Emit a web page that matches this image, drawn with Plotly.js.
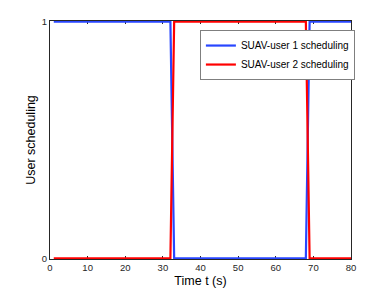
<!DOCTYPE html>
<html><head><meta charset="utf-8">
<script src="https://cdn.plot.ly/plotly-3.0.1.min.js"></script>
<style>body{margin:0;background:#fff}#p{width:388px;height:291px}</style>
</head><body><div id="p"></div>
<script>
const time = [];
for (let t = 1; t <= 80; t++) time.push(t);
// scheduling indicators (1 = scheduled, 0 = not scheduled)
const user1 = [
  1,1,1,1,1,1,1,1,1,1, 1,1,1,1,1,1,1,1,1,1, 1,1,1,1,1,1,1,1,1,1, 1,1,0,0,0,0,0,0,0,0,
  0,0,0,0,0,0,0,0,0,0, 0,0,0,0,0,0,0,0,0,0, 0,0,0,0,0,0,0,0,1,1, 1,1,1,1,1,1,1,1,1,1
];
const user2 = [
  0,0,0,0,0,0,0,0,0,0, 0,0,0,0,0,0,0,0,0,0, 0,0,0,0,0,0,0,0,0,0, 0,0,1,1,1,1,1,1,1,1,
  1,1,1,1,1,1,1,1,1,1, 1,1,1,1,1,1,1,1,1,1, 1,1,1,1,1,1,1,1,0,0, 0,0,0,0,0,0,0,0,0,0
];
const seriesNames = ['SUAV-user 1 scheduling', 'SUAV-user 2 scheduling'];
const xTicks = [0, 10, 20, 30, 40, 50, 60, 70, 80];
const yTicks = [0, 1];

const axisColor = '#262626';
const data = [
  {x: time, y: user1, name: seriesNames[0], mode: 'lines', line: {color: '#2846ff', width: 2.2}, cliponaxis: false},
  {x: time, y: user2, name: seriesNames[1], mode: 'lines', line: {color: '#ff0000', width: 2.2}, cliponaxis: false}
];
const layout = {
  width: 388, height: 291,
  margin: {l: 50, r: 37, t: 21, b: 32},
  paper_bgcolor: '#fff', plot_bgcolor: '#fff',
  font: {family: 'Liberation Sans, Arial, sans-serif', size: 9.5, color: axisColor},
  showlegend: true,
  legend: {x: 0.498, y: 0.962, xanchor: 'left', yanchor: 'top', bordercolor: '#7f7f7f', borderwidth: 1,
           bgcolor: '#fff', font: {size: 10, color: '#000'}, tracegroupgap: 0, itemwidth: 30},
  xaxis: {range: [0, 80], tickvals: xTicks, ticks: 'inside', ticklen: 3, tickcolor: axisColor, layer: 'below traces',
          showline: true, linecolor: axisColor, linewidth: 1, mirror: 'ticks', showgrid: false, zeroline: false,
          title: {text: 'Time t (s)', font: {size: 12.5, color: '#000'}, standoff: 3}},
  yaxis: {range: [-0.003, 1.003], tickvals: yTicks, ticks: 'inside', ticklen: 3, tickcolor: axisColor, layer: 'below traces',
          showline: true, linecolor: axisColor, linewidth: 1, mirror: 'ticks', showgrid: false, zeroline: false,
          title: {text: 'User scheduling', font: {size: 12.5, color: '#000'}, standoff: 3}}
};
Plotly.newPlot('p', data, layout, {staticPlot: true});
</script></body></html>
